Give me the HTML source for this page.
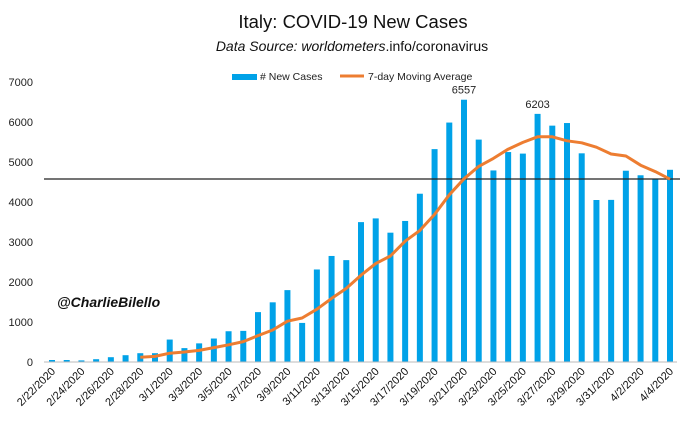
<!DOCTYPE html>
<html><head><meta charset="utf-8"><style>
body{margin:0;background:#fff;}
svg{display:block;font-family:"Liberation Sans",sans-serif;}
</style></head><body>
<svg id="chart" width="680" height="423" viewBox="0 0 680 423">
<text x="353" y="28" text-anchor="middle" font-size="18.5" fill="#111">Italy: COVID-19 New Cases</text>
<text x="352" y="51" text-anchor="middle" font-size="14" font-style="italic" fill="#111">Data Source: worldometers<tspan font-style="normal">.info/coronavirus</tspan></text>
<g>
<rect x="232" y="74" width="25" height="6" fill="#00a2e8"/>
<text x="260" y="80" font-size="10.5" fill="#222"># New Cases</text>
<line x1="340" y1="76" x2="364" y2="76" stroke="#ed7d31" stroke-width="3"/>
<text x="368" y="80" font-size="10.5" fill="#222">7-day Moving Average</text>
</g>
<text x="57" y="307" font-size="14" font-weight="bold" font-style="italic" fill="#111">@CharlieBilello</text>
<g id="yaxis"></g><g id="bars"></g><g id="xaxis"></g><g id="lines"></g>
</svg>
<script>
const labels=["2/22/2020","2/23/2020","2/24/2020","2/25/2020","2/26/2020","2/27/2020","2/28/2020","2/29/2020","3/1/2020","3/2/2020","3/3/2020","3/4/2020","3/5/2020","3/6/2020","3/7/2020","3/8/2020","3/9/2020","3/10/2020","3/11/2020","3/12/2020","3/13/2020","3/14/2020","3/15/2020","3/16/2020","3/17/2020","3/18/2020","3/19/2020","3/20/2020","3/21/2020","3/22/2020","3/23/2020","3/24/2020","3/25/2020","3/26/2020","3/27/2020","3/28/2020","3/29/2020","3/30/2020","3/31/2020","4/1/2020","4/2/2020","4/3/2020","4/4/2020"];
const newCases=[50,50,40,70,120,170,220,220,561,347,466,587,769,778,1247,1492,1797,977,2313,2651,2547,3497,3590,3233,3526,4207,5322,5986,6557,5560,4789,5249,5210,6203,5909,5974,5217,4050,4053,4782,4668,4585,4805];
const movingAvg=[null,null,null,null,null,null,120,140,220,250,290,360,430,510,660,800,1020,1100,1320,1590,1840,2170,2460,2650,3020,3290,3690,4180,4580,4890,5090,5320,5490,5630,5630,5530,5480,5370,5200,5150,4920,4760,4570];
const yTicks=[0,1000,2000,3000,4000,5000,6000,7000];
const annotated=[6557,6203];
const refLine=4575;
const NS="http://www.w3.org/2000/svg";
const x0=52,dx=(670-52)/42;
const xs=i=>x0+i*dx;
const ys=v=>362-v*0.04;
function mk(t,a,p){const e=document.createElementNS(NS,t);for(const k in a)e.setAttribute(k,a[k]);p.appendChild(e);return e;}
const yg=document.getElementById('yaxis');
yTicks.forEach(v=>{const t=mk('text',{x:33,y:ys(v)+4,'text-anchor':'end','font-size':11,fill:'#222'},yg);t.textContent=v;

});
const bg=document.getElementById('bars');
newCases.forEach((v,i)=>{const r=mk('rect',{x:xs(i)-3,y:ys(v),width:6,height:v*0.04,fill:'#00a2e8'},bg);


if(annotated.includes(v)){const t=mk('text',{x:xs(i),y:ys(v)-6,'text-anchor':'middle','font-size':11,fill:'#222'},bg);t.textContent=v;

}});
const xg=document.getElementById('xaxis');
const ax=mk('line',{x1:44,y1:362,x2:677,y2:362,stroke:'#bbb','stroke-width':1},xg);


labels.forEach((l,i)=>{if(i%2)return;const x=xs(i)+4,y=372;const t=mk('text',{x:x,y:y,'text-anchor':'end','font-size':11,fill:'#111',transform:`rotate(-45 ${x} ${y})`},xg);t.textContent=l;

});
const lg=document.getElementById('lines');
const hl=mk('line',{x1:44,y1:ys(refLine),x2:680,y2:ys(refLine),stroke:'#222','stroke-width':1.3},lg);


let d='';movingAvg.forEach((v,i)=>{if(v==null)return;d+=(d?'L':'M')+xs(i).toFixed(1)+','+ys(v).toFixed(1);});
const p=mk('path',{d:d,fill:'none',stroke:'#ed7d31','stroke-width':3,'stroke-linejoin':'round'},lg);


</script>
</body></html>
